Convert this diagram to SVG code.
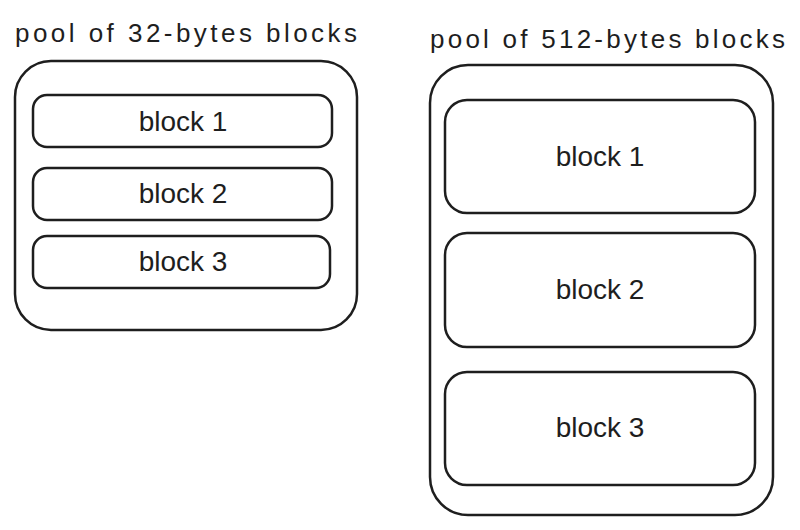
<svg xmlns="http://www.w3.org/2000/svg" width="800" height="530" viewBox="0 0 800 530">
<style>
.box{fill:none;stroke:#1e1e1e;stroke-width:2.5}
.t{font-family:"Liberation Sans",sans-serif;font-size:26px;fill:#1e1e1e}
.c{text-anchor:middle;dominant-baseline:central;font-size:28px}
</style>
<rect width="800" height="530" fill="#fff"/>
<g id="pool32">
<text class="t" x="15" y="42" textLength="342" lengthAdjust="spacing">pool of 32-bytes blocks</text>
<rect class="box" x="15" y="61" width="342" height="269" rx="36"/>
</g>
<g id="p32b1"><rect class="box" x="33" y="95" width="299" height="52" rx="14"/><text class="t c" x="183" y="121">block 1</text></g>
<g id="p32b2"><rect class="box" x="33" y="168" width="299" height="52" rx="14"/><text class="t c" x="183" y="193">block 2</text></g>
<g id="p32b3"><rect class="box" x="33" y="236" width="297" height="52" rx="14"/><text class="t c" x="183" y="261">block 3</text></g>
<g id="pool512">
<text class="t" x="430" y="48" textLength="355" lengthAdjust="spacing">pool of 512-bytes blocks</text>
<rect class="box" x="430" y="65" width="343" height="450" rx="38"/>
</g>
<g id="p512b1"><rect class="box" x="445" y="100" width="310" height="113" rx="22"/><text class="t c" x="600" y="156">block 1</text></g>
<g id="p512b2"><rect class="box" x="445" y="233" width="310" height="114" rx="22"/><text class="t c" x="600" y="289">block 2</text></g>
<g id="p512b3"><rect class="box" x="445" y="372" width="310" height="113" rx="22"/><text class="t c" x="600" y="427">block 3</text></g>
<g id="connectors"></g>
</svg>
